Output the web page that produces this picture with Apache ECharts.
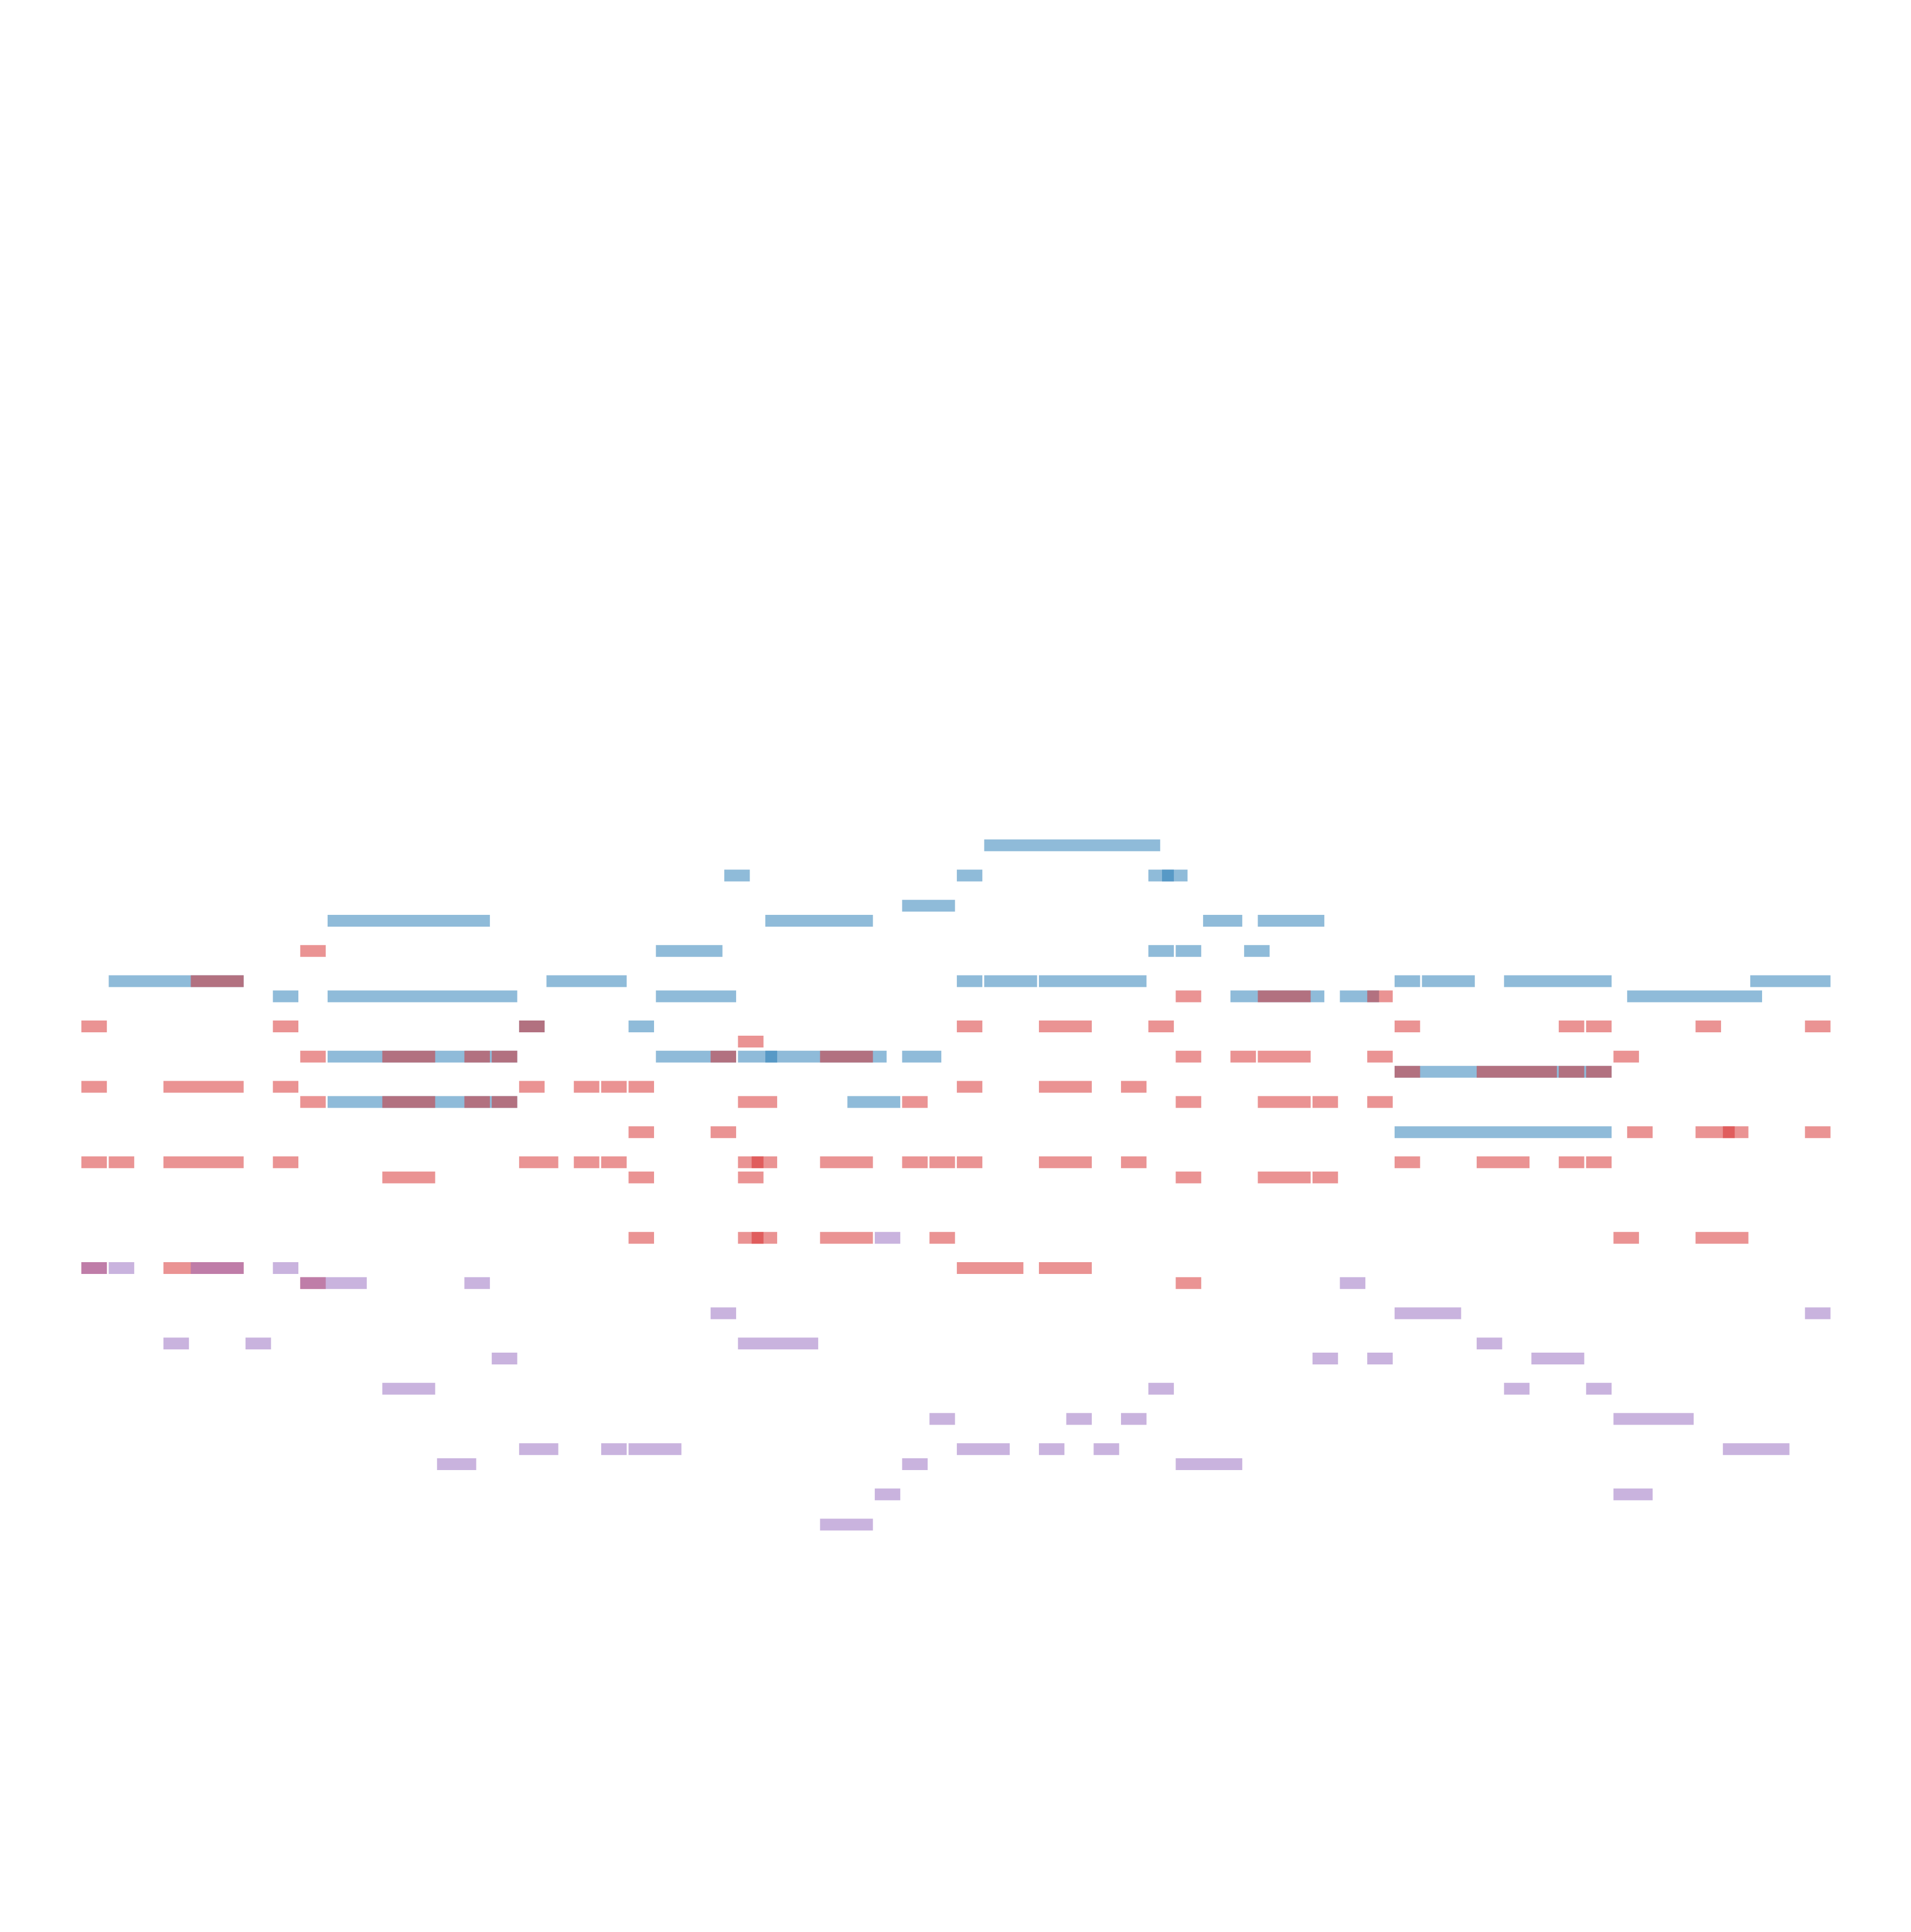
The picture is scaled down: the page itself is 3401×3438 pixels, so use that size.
<!DOCTYPE html>
<html>
<head>
<meta charset="utf-8">
<script src="https://cdn.jsdelivr.net/npm/echarts@6/dist/echarts.min.js"></script>
<style>
  html, body { margin: 0; padding: 0; background: #ffffff; }
  #chart { width: 3401px; height: 3438px; }
</style>
</head>
<body>
<div id="chart"></div>
<script>
// Each note: [start (beats), duration (beats), pitch (MIDI-like)]
const blueNotes = [
  [33, 6.5, 76],
  [23.5, 1, 74], [32, 1, 74], [39, 1, 74], [39.5, 1, 74],
  [30, 2, 72],
  [9, 6, 71], [25, 4, 71], [41, 1.5, 71], [43, 2.5, 71],
  [21, 2.5, 69], [39, 1, 69], [40, 1, 69], [42.5, 1, 69],
  [1, 5, 67], [17, 3, 67], [32, 1, 67], [33, 2, 67], [35, 4, 67], [48, 1, 67], [49, 2, 67], [52, 4, 67], [61, 3, 67],
  [7, 1, 66], [9, 7, 66], [21, 3, 66], [42, 3.5, 66], [46, 1.5, 66], [56.5, 5, 66],
  [16, 1, 64], [20, 1, 64],
  [9, 7, 62], [21, 3, 62], [24, 1.5, 62], [25, 4.5, 62], [30, 1.5, 62],
  [48, 8, 61],
  [9, 7, 59], [28, 2, 59],
  [48, 8, 57]
];

const redNotes = [
  [8, 1, 69],
  [4, 2, 67],
  [40, 1, 66], [43, 2, 66], [47, 1, 66],
  [0, 1, 64], [7, 1, 64], [16, 1, 64], [32, 1, 64], [35, 2, 64], [39, 1, 64], [48, 1, 64], [54, 1, 64], [55, 1, 64], [59, 1, 64], [63, 1, 64],
  [24, 1, 63],
  [8, 1, 62], [11, 2, 62], [14, 1, 62], [15, 1, 62], [23, 1, 62], [27, 2, 62], [40, 1, 62], [42, 1, 62], [43, 2, 62], [47, 1, 62], [56, 1, 62],
  [48, 1, 61], [51, 3, 61], [54, 1, 61], [55, 1, 61],
  [0, 1, 60], [3, 3, 60], [7, 1, 60], [16, 1, 60], [18, 1, 60], [19, 1, 60], [20, 1, 60], [32, 1, 60], [35, 2, 60], [38, 1, 60],
  [8, 1, 59], [11, 2, 59], [14, 1, 59], [15, 1, 59], [24, 1.5, 59], [30, 1, 59], [40, 1, 59], [43, 2, 59], [45, 1, 59], [47, 1, 59],
  [20, 1, 57], [23, 1, 57], [56.5, 1, 57], [59, 1.5, 57], [60, 1, 57], [63, 1, 57],
  [0, 1, 55], [1, 1, 55], [3, 3, 55], [7, 1, 55], [16, 1.5, 55], [18, 1, 55], [19, 1, 55], [24, 1, 55], [24.5, 1, 55], [27, 2, 55],
  [30, 1, 55], [31, 1, 55], [32, 1, 55], [35, 2, 55], [38, 1, 55], [48, 1, 55], [51, 2, 55], [54, 1, 55], [55, 1, 55],
  [11, 2, 54], [20, 1, 54], [24, 1, 54], [40, 1, 54], [43, 2, 54], [45, 1, 54],
  [20, 1, 50], [24, 1, 50], [24.5, 1, 50], [27, 2, 50], [31, 1, 50], [56, 1, 50], [59, 2, 50],
  [0, 1, 48], [3, 3, 48], [32, 2.5, 48], [35, 2, 48],
  [8, 1, 47], [40, 1, 47]
];

const purpleNotes = [
  [0, 1, 48], [1, 1, 48], [4, 2, 48], [7, 1, 48],
  [8, 2.5, 47], [14, 1, 47], [46, 1, 47],
  [29, 1, 50],
  [23, 1, 45], [48, 2.5, 45], [63, 1, 45],
  [3, 1, 43], [6, 1, 43], [24, 3, 43], [51, 1, 43],
  [15, 1, 42], [45, 1, 42], [47, 1, 42], [53, 2, 42],
  [11, 2, 40], [39, 1, 40], [52, 1, 40], [55, 1, 40],
  [31, 1, 38], [36, 1, 38], [38, 1, 38], [56, 3, 38],
  [16, 1.5, 36], [19, 1, 36], [20, 2, 36], [32, 2, 36], [35, 1, 36], [37, 1, 36], [60, 2.5, 36],
  [13, 1.5, 35], [30, 1, 35], [40, 2.5, 35],
  [29, 1, 33], [56, 1.5, 33],
  [27, 2, 31]
];

const timeRange = [0, 64];
const pitchRange = [24, 110];

const chart = echarts.init(document.getElementById('chart'), null, { renderer: 'canvas' });

function makeRenderer(color) {
  return function (params, api) {
    const start = api.value(0);
    const dur = api.value(1);
    const pitch = api.value(2);
    const p0 = api.coord([start, pitch]);
    const p1 = api.coord([start + dur, pitch]);
    const unitH = api.size([0, 1])[1];
    const h = unitH * 0.782;
    return {
      type: 'rect',
      shape: { x: p0[0], y: p0[1] - h / 2, width: p1[0] - p0[0] - 3.3, height: h },
      style: { fill: color }
    };
  };
}

function noteSeries(name, data, color) {
  return {
    type: 'custom',
    name: name,
    data: data,
    encode: { x: [0, 1], y: 2 },
    renderItem: makeRenderer(color),
    silent: true,
    clip: false
  };
}

chart.setOption({
  animation: false,
  backgroundColor: '#ffffff',
  grid: {
    left: 144.8,
    right: 140.0,
    top: 591.06,
    bottom: 536.98,
    containLabel: false,
    outerBoundsMode: 'none',
    show: false
  },
  xAxis: {
    type: 'value',
    min: timeRange[0],
    max: timeRange[1],
    show: false,
    splitLine: { show: false }
  },
  yAxis: {
    type: 'value',
    min: pitchRange[0],
    max: pitchRange[1],
    show: false,
    splitLine: { show: false }
  },
  series: [
    noteSeries('blue', blueNotes, 'rgba(31,119,180,0.5)'),
    noteSeries('red', redNotes, 'rgba(214,39,40,0.5)'),
    noteSeries('purple', purpleNotes, 'rgba(148,103,189,0.5)')
  ]
});
</script>
</body>
</html>
